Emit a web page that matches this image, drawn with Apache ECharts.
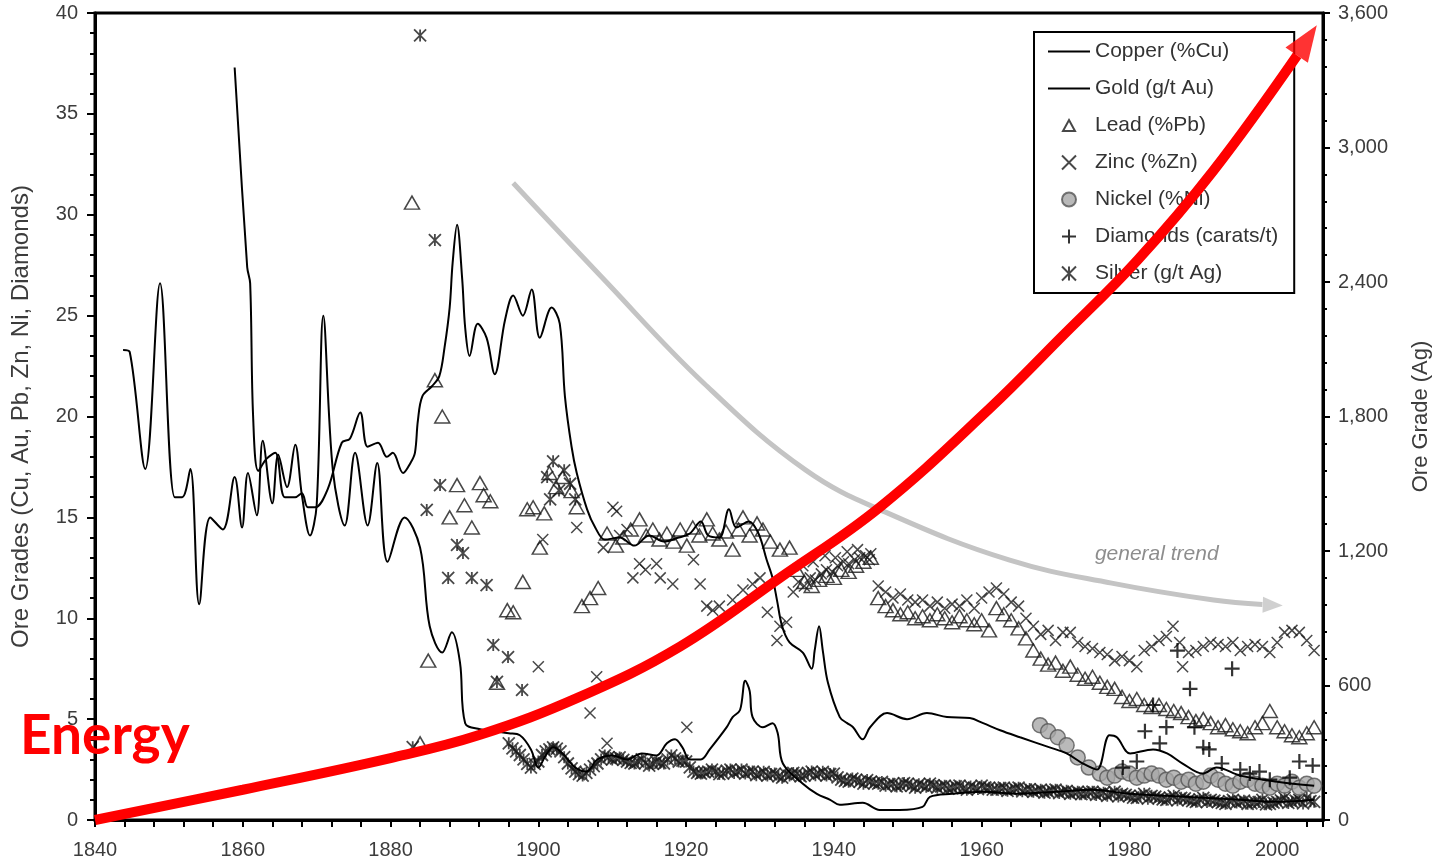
<!DOCTYPE html>
<html><head><meta charset="utf-8">
<script src="https://cdn.jsdelivr.net/npm/echarts@6/dist/echarts.min.js"></script>
<style>html,body{margin:0;padding:0;background:#fff}#c{width:1439px;height:862px}</style>
</head><body><div id="c"></div>
<script>
// ---------- data (year, value) ----------
const copper = [[1843.8,23.3],[1844.7,23.2],[1846.8,17.4],[1848.8,26.6],[1850.8,16.0],[1851.8,16.0],[1852.9,17.4],[1854.1,10.7],[1855.6,15.0],[1857.3,14.4],[1858.9,17.0],[1859.9,14.5],[1860.7,17.2],[1861.9,15.1],[1862.7,18.8],[1864.0,15.7],[1864.8,18.1],[1866.0,16.5],[1867.1,18.6],[1868.0,16.1],[1869.1,14.1],[1870.0,15.6],[1870.9,25.0],[1872.2,17.3],[1873.8,14.6],[1875.2,18.2],[1876.9,14.6],[1878.2,17.7],[1879.6,12.8],[1881.9,15.0],[1884.0,13.5],[1885.3,9.6],[1887.0,8.3],[1888.3,9.3],[1889.4,7.8],[1890.1,4.8],[1892.1,4.5],[1894,4.4],[1896,4.3],[1897.5,4.2],[1899,3.5],[1900,2.6],[1901,3.2],[1902,3.6],[1903,3.4],[1904,3.0],[1905,2.6],[1906.5,2.4],[1908,3.0],[1910,3.2],[1912,3.0],[1914,3.3],[1916,3.2],[1917.4,3.8],[1918.5,4.0],[1919.5,3.6],[1920.5,3.0],[1922,3.0],[1923.2,3.5],[1925.5,4.6],[1926.3,5.1],[1927.3,5.45],[1928.0,6.9],[1928.6,6.4],[1929.0,5.1],[1930.4,4.6],[1931.7,4.8],[1932.4,4.3],[1933.1,2.8],[1935.8,1.8],[1937.7,1.3],[1939.5,1.0],[1940.8,0.75],[1943.9,0.85],[1946.2,0.5],[1948.9,0.5],[1952,0.65],[1953,1.15],[1956,1.3],[1960,1.4],[1965,1.3],[1970,1.4],[1975,1.5],[1980,1.3],[1985,1.2],[1990,1.1],[1995,1.0],[2000,0.9],[2005,1.0]];

const gold = [[1858.9,37.3],[1860.6,27.4],[1861.0,26.6],[1861.4,20.0],[1862.1,17.3],[1863.2,17.9],[1864.4,18.2],[1865.7,16.0],[1867.1,16.0],[1868.0,16.2],[1868.8,15.5],[1869.8,15.5],[1871.5,16.4],[1873.4,18.7],[1874.5,18.9],[1875.9,20.2],[1876.9,18.5],[1878.3,18.7],[1879.5,18.0],[1880.3,18.2],[1881.7,17.2],[1882.7,17.7],[1883.3,18.2],[1883.7,19.8],[1884.3,21.0],[1885.6,21.5],[1886.6,22.0],[1887.3,23.4],[1888.0,25.4],[1888.4,27.6],[1889.0,29.5],[1889.7,26.8],[1890.1,24.4],[1890.7,23.0],[1891.8,24.6],[1893.0,23.9],[1894.1,22.1],[1895.5,24.8],[1896.6,26.0],[1897.9,25.0],[1899.1,26.3],[1900.2,23.9],[1901.8,25.4],[1902.9,24.6],[1903.6,21.0],[1904.5,18.5],[1905.2,17.2],[1906.6,15.4],[1907.7,14.5],[1909,13.9],[1911,14.0],[1913,13.6],[1915,14.1],[1917,13.8],[1919,14.0],[1920.5,14.2],[1922,14.8],[1923,14.1],[1924.5,14.0],[1925.8,15.4],[1926.8,14.5],[1928.5,14.8],[1929.8,14.2],[1930.9,12.9],[1931.7,12.0],[1932.3,10.9],[1933.0,9.6],[1934.0,8.8],[1935.8,8.3],[1937.0,7.5],[1937.4,8.4],[1938.0,9.6],[1938.5,8.4],[1939.2,6.8],[1940.8,5.1],[1941.8,4.8],[1942.6,4.6],[1943.9,4.0],[1944.9,4.6],[1947.2,5.3],[1949.9,5.0],[1952.6,5.3],[1955.3,5.1],[1958.4,5.05],[1960.2,4.8],[1962.5,4.45],[1965.2,4.1],[1969.2,3.6],[1971.5,3.3],[1973.7,2.8],[1975.6,2.5],[1977.3,4.2],[1978.3,4.1],[1980.1,3.3],[1983.2,3.5],[1985.1,3.3],[1987.2,2.8],[1989.9,2.3],[1991.8,2.6],[1995,2.2],[2000,1.9],[2005,1.7]];

const lead = [[1882.9,30.6],[1884.0,3.8],[1885.1,7.9],[1886.0,21.8],[1887.0,20.0],[1888.0,15.0],[1889.0,16.6],[1890.0,15.6],[1891.0,14.5],[1892.1,16.7],[1892.6,16.1],[1893.5,15.8],[1894.4,6.8],[1895.8,10.4],[1896.6,10.3],[1897.9,11.8],[1898.5,15.4],[1899.3,15.5],[1900.2,13.5],[1900.8,15.2],[1901.5,17.2],[1902.4,16.5],[1903.3,17.0],[1904.5,16.3],[1905.2,15.5],[1905.9,10.6],[1907.0,11.0],[1908.1,11.5],[1909.3,14.2],[1910.5,13.6],[1911.5,14.0],[1912.5,14.4],[1913.7,14.9],[1914.6,14.1],[1915.5,14.4],[1916.4,13.9],[1917.4,14.2],[1918.3,13.8],[1919.2,14.4],[1920.1,13.6],[1920.9,14.5],[1921.8,14.1],[1922.8,14.9],[1923.6,14.2],[1924.5,13.9],[1925.4,14.3],[1926.3,13.4],[1927.1,14.4],[1927.7,15.0],[1928.6,14.1],[1929.6,14.7],[1930.4,14.4],[1931.4,13.8],[1932.7,13.4],[1934.0,13.5],[1935.0,12.4],[1936,11.8],[1937,11.6],[1938,11.9],[1939,12.1],[1940,12.0],[1941,12.4],[1942,12.3],[1943,12.6],[1944,12.8],[1945,13.0],[1946,11.0],[1947,10.6],[1948,10.4],[1949,10.2],[1950,10.3],[1951,10.0],[1952,10.1],[1953,9.9],[1954,10.2],[1955,10.0],[1956,9.8],[1957,10.1],[1958,9.9],[1959,9.7],[1960,9.9],[1961,9.4],[1962,10.5],[1963,10.2],[1964,9.9],[1965,9.5],[1966,9.0],[1967,8.4],[1968,8.0],[1969,7.7],[1970,7.8],[1971,7.4],[1972,7.6],[1973,7.2],[1974,7.0],[1975,7.1],[1976,6.8],[1977,6.6],[1978,6.5],[1979,6.1],[1980,5.9],[1981,6.0],[1982,5.7],[1983,5.6],[1984,5.7],[1985,5.5],[1986,5.4],[1987,5.3],[1988,5.1],[1989,4.9],[1990,5.0],[1991,4.8],[1992,4.6],[1993,4.7],[1994,4.5],[1995,4.4],[1996,4.3],[1997,4.6],[1998,4.8],[1999,5.4],[2000,4.6],[2001,4.4],[2002,4.2],[2003,4.1],[2004,4.3],[2005,4.6]];

const zinc = [[1900.0,7.6],[1900.6,13.9],[1905.2,14.5],[1907.0,5.3],[1907.9,7.1],[1908.8,13.5],[1909.3,3.8],[1910.1,15.5],[1910.6,15.3],[1911.0,14.1],[1912.0,14.4],[1912.8,12.0],[1913.7,12.7],[1914.5,12.4],[1916.0,12.7],[1916.5,12.0],[1918.2,11.7],[1920.1,4.6],[1921.0,12.9],[1921.9,11.7],[1922.8,10.6],[1923.6,10.4],[1924.5,10.6],[1926.3,10.9],[1927.7,11.4],[1929.0,11.7],[1930.0,12.0],[1931.0,10.3],[1932.3,8.9],[1932.7,9.6],[1933.6,9.8],[1934.5,11.3],[1935.2,11.8],[1935.8,12.6],[1936,11.6],[1936.8,12.0],[1937.2,12.8],[1937.5,11.9],[1938.3,12.2],[1938.8,13.1],[1939,12.4],[1939.8,12.3],[1940.2,13.0],[1940.5,12.6],[1941.3,12.8],[1941.8,13.3],[1942,12.7],[1942.8,12.9],[1943.2,13.4],[1943.5,13.0],[1944.3,13.1],[1944.8,12.9],[1945,13.2],[1946,11.6],[1947,11.3],[1948,11.0],[1949,11.2],[1950,10.9],[1951,10.8],[1952,10.9],[1953,10.6],[1954,10.8],[1955,10.5],[1956,10.7],[1957,10.6],[1958,10.9],[1959,10.5],[1960,11.0],[1961,11.3],[1962,11.5],[1963,11.2],[1964,10.8],[1965,10.6],[1966,10.0],[1967,9.6],[1968,9.2],[1969,9.4],[1970,8.9],[1971,9.3],[1972,9.3],[1973,8.8],[1974,8.6],[1975,8.5],[1976,8.3],[1977,8.2],[1978,7.9],[1979,8.1],[1980,7.9],[1981,7.6],[1982,8.4],[1983,8.6],[1984,8.9],[1985,9.1],[1985.9,9.6],[1986.8,8.8],[1987.2,7.6],[1988,8.3],[1989,8.4],[1990,8.6],[1991,8.8],[1992,8.7],[1993,8.6],[1994,8.8],[1995,8.4],[1996,8.6],[1997,8.7],[1998,8.6],[1999,8.3],[2000,8.8],[2001,9.3],[2002,9.4],[2003,9.3],[2004,8.9],[2005,8.4]];

const nickel = [[1967.9,4.7],[1969,4.4],[1970.3,4.1],[1971.5,3.7],[1973,3.1],[1974.5,2.6],[1976,2.3],[1977,2.1],[1978,2.2],[1979,2.4],[1980,2.3],[1981,2.1],[1982,2.2],[1983,2.3],[1984,2.2],[1985,2.0],[1986,2.1],[1987,1.9],[1988,2.0],[1989,1.8],[1990,1.9],[1991,2.2],[1992,2.0],[1993,1.8],[1994,1.7],[1995,1.9],[1996,2.0],[1997,1.8],[1998,1.7],[1999,1.6],[2000,1.8],[2001,1.7],[2002,1.9],[2003,1.6],[2004,1.8],[2005,1.7]];

const diamonds = [[1979.1,2.6],[1981,2.9],[1982.1,4.4],[1983.2,5.7],[1984.1,3.8],[1985,4.6],[1986.5,8.4],[1988.2,6.5],[1988.8,4.6],[1990,3.6],[1990.8,3.5],[1992.5,2.8],[1993.9,7.5],[1995,2.5],[1996.3,2.3],[1997.6,2.4],[1999,2.0],[2001.7,2.1],[2003,2.9],[2004.8,2.7]];

// silver, g/t (right axis)
const silver = [[1883.0,325],[1884.0,3500],[1884.9,1383],[1886.0,2587],[1886.7,1494],[1887.8,1080],[1889.0,1227],[1889.8,1191],[1891.0,1080],[1893.0,1048],[1893.9,781],[1894.4,616],[1895.9,727],[1897.8,580],[1901.2,1530],[1901.6,1430],[1902.0,1600],[1902.8,1470],[1903.5,1560],[1904.3,1500],[1905.0,1430],
[1896,342],[1896.5,320],[1897,306],[1897.5,290],[1898,270],[1898.5,250],[1899,234],[1899.5,250],[1900,261],[1900.5,290],[1901,306],[1901.5,315],[1902,324],[1902.5,318],[1903,306],[1903.5,280],[1904,252],[1904.5,230],[1905,216],[1905.5,205],[1906,198],[1906.5,210],[1907,225],[1907.5,240],[1908,252],[1908.5,270],[1909,288],[1909.5,280],[1910,270],[1910.5,275],[1911,279],[1911.5,268],[1912,261],[1912.5,255],[1913,252],[1913.5,262],[1914,270],[1914.5,255],[1915,243],[1915.5,250],[1916,261],[1916.5,255],[1917,252],[1917.5,270],[1918,288],[1918.5,275],[1919,261],[1919.5,265],[1920,261],[1920.5,235],[1921,216],[1921.5,210],[1922,207],[1922.5,212],[1923,216],[1924,216],[1925,207],[1926,225],[1927,216],[1928,207],[1929,216],[1930,207],[1931,198],[1932,207],[1933,189],[1934,198],[1935,207],[1936,198],[1937,216],[1938,207],[1939,198],[1940,207],[1941,180],[1942,171],[1943,180],[1944,162],[1945,171],[1946,162],[1947,153],[1948,162],[1949,153],[1950,162],[1951,144],[1952,153],[1953,162],[1954,144],[1955,153],[1956,144],[1957,153],[1958,135],[1959,144],[1960,153],[1961,144],[1962,135],[1963,144],[1964,135],[1965,144],[1966,135],[1967,126],[1968,135],[1969,126],[1970,135],[1971,126],[1972,117],[1973,126],[1974,117],[1975,126],[1976,117],[1977,108],[1978,126],[1979,117],[1980,108],[1981,99],[1982,117],[1983,108],[1984,99],[1985,90],[1986,108],[1987,99],[1988,90],[1989,81],[1990,99],[1991,90],[1992,81],[1993,72],[1994,90],[1995,81],[1996,72],[1997,81],[1998,90],[1999,72],[2000,81],[2001,99],[2002,81],[2003,90],[2004,99],[2005,81],
[1923.5,225],[1924.5,205],[1925.5,220],[1926.5,210],[1927.5,225],[1928.5,215],[1929.5,200],[1930.5,215],[1931.5,205],[1932.5,195],[1933.5,205],[1934.5,210],[1935.5,195],[1936.5,210],[1937.5,200],[1938.5,215],[1939.5,205],[1940.5,190],[1941.5,175],[1942.5,185],[1943.5,170],[1944.5,178],[1945.5,165],[1946.5,170],[1947.5,160],[1948.5,150],[1949.5,165],[1950.5,152],[1951.5,160],[1952.5,148],[1953.5,155],[1954.5,150],[1955.5,140],[1956.5,150],[1957.5,142],[1958.5,150],[1959.5,138],[1960.5,145],[1961.5,135],[1962.5,142],[1963.5,130],[1964.5,140],[1965.5,128],[1966.5,138],[1967.5,130],[1968.5,122],[1969.5,132],[1970.5,120],[1971.5,130],[1972.5,122],[1973.5,115],[1974.5,124],[1975.5,112],[1976.5,122],[1977.5,115],[1978.5,105],[1979.5,112],[1980.5,100],[1981.5,108],[1982.5,95],[1983.5,104],[1984.5,92],[1985.5,100],[1986.5,88],[1987.5,96],[1988.5,84],[1989.5,92],[1990.5,80],[1991.5,86],[1992.5,76],[1993.5,84],[1994.5,78],[1995.5,86],[1996.5,74],[1997.5,80],[1998.5,70],[1999.5,78],[2000.5,88],[2001.5,76],[2002.5,86],[2003.5,74],[2004.5,84]];

// annotation curves (left-axis units)
const energyCurve = [[1840,0],[1860,1.5],[1880,3.07],[1892,4.21],[1905.6,6.1],[1919.2,8.6],[1932.7,12.0],[1946.2,15.5],[1961.1,20.4],[1970.7,23.9],[1981.1,27.75],[1991.4,32.2],[2002.7,37.9]];
const energyHead = [[2004.0,38.65]];
const trendCurve = [[1896.6,31.57],[1908.6,26.9],[1922.4,21.65],[1936.2,17.34],[1947.3,15.21],[1963.8,12.88],[1977.6,11.74],[1991.4,10.9],[1998.0,10.68]];
const trendHead = [[1999.4,10.65]];
const trendLabel = [[1983.7,13.2]];

const FONT = 'Liberation Sans, Arial, sans-serif';
const TXT = '#3c3c3c';
const chart = echarts.init(document.getElementById('c'));
const symX = 'path://M0,0L10,10M10,0L0,10';
const symPlus = 'path://M5,0L5,10M0,5L10,5';
const symStar = 'path://M0,0L10,10M10,0L0,10M5,0L5,10';
const iconLine = 'path://M0,0L42,0L42,2L0,2Z';
const iconTri = 'path://M0,0M7,1.5L13,12.5L1,12.5ZM14,14';

const legendItems = [
  { name: 'Copper (%Cu)', icon: iconLine },
  { name: 'Gold (g/t Au)', icon: iconLine },
  { name: 'Lead (%Pb)', icon: iconTri },
  { name: 'Zinc (%Zn)' },
  { name: 'Nickel (%Ni)' },
  { name: 'Diamonds (carats/t)' },
  { name: 'Silver (g/t Ag)' }
];

chart.setOption({
  animation: false,
  backgroundColor: '#fff',
  title: { text: 'Energy', left: 15, top: 704, padding: 5,
    textStyle: { color: '#ff0000', fontSize: 55, fontWeight: 'bold', fontFamily: 'Lato, sans-serif' } },
  grid: { left: 95, right: 116, top: 13, bottom: 42, show: true, borderColor: '#000', borderWidth: 3,
    backgroundColor: 'transparent', outerBoundsMode: 'none' },
  legend: {
    data: legendItems, orient: 'vertical', left: 1034, top: 32, itemWidth: 42, itemHeight: 14, itemGap: 16,
    padding: [9, 16, 9, 14], borderColor: '#000', borderWidth: 2, backgroundColor: '#fff', selectedMode: false,
    textStyle: { fontSize: 21, color: '#333', fontFamily: FONT }
  },
  xAxis: [
    { type: 'value', min: 1840, max: 2006.2, interval: 20, position: 'bottom',
      axisLine: { show: true, lineStyle: { color: '#000', width: 3 } },
      axisTick: { show: false }, splitLine: { show: false },
      axisLabel: { margin: 20, fontSize: 20, color: TXT, fontFamily: FONT, showMaxLabel: false,
        formatter: v => (Math.abs(v % 20) < 1e-6 ? String(v) : '') } },
    { type: 'value', min: 1840, max: 2006.2, interval: 4, position: 'bottom',
      axisLine: { show: false }, axisLabel: { show: false }, splitLine: { show: false },
      axisTick: { show: true, length: 7, lineStyle: { color: '#000', width: 2 } } }
  ],
  yAxis: [
    { type: 'value', min: 0, max: 40, interval: 5, position: 'left',
      axisLine: { show: true, lineStyle: { color: '#000', width: 3 } },
      axisTick: { show: true, length: 8, lineStyle: { color: '#000', width: 2 } },
      minorTick: { show: true, splitNumber: 5, length: 5, lineStyle: { color: '#000', width: 2 } },
      splitLine: { show: false }, minorSplitLine: { show: false },
      axisLabel: { margin: 17, fontSize: 20, color: TXT, fontFamily: FONT },
      name: 'Ore Grades (Cu, Au, Pb, Zn, Ni, Diamonds)', nameLocation: 'middle', nameGap: 62,
      nameTextStyle: { fontSize: 24, color: TXT, fontFamily: FONT } },
    { type: 'value', min: 0, max: 3600, interval: 600, position: 'right',
      axisLine: { show: true, lineStyle: { color: '#000', width: 3 } },
      axisTick: { show: true, length: 7, lineStyle: { color: '#000', width: 2 } },
      minorTick: { show: true, splitNumber: 5, length: 4, lineStyle: { color: '#000', width: 2 } },
      splitLine: { show: false }, minorSplitLine: { show: false },
      axisLabel: { margin: 15, fontSize: 20, color: TXT, fontFamily: FONT,
        formatter: v => v.toLocaleString('en-US') },
      name: 'Ore Grade (Ag)', nameLocation: 'middle', nameGap: 87, nameRotate: 90,
      nameTextStyle: { fontSize: 22, color: TXT, fontFamily: FONT } }
  ],
  series: [
    { name: 'Trend', type: 'line', data: trendCurve, smooth: 0.4, symbol: 'none', z: 1, silent: true,
      lineStyle: { color: '#c4c4c4', width: 5 } },
    { name: 'TrendHead', type: 'scatter', data: trendHead, symbol: 'triangle', symbolSize: [16, 20], symbolRotate: -92,
      z: 1, silent: true, itemStyle: { color: '#c4c4c4' } },
    { name: 'TrendLabel', type: 'scatter', data: trendLabel, symbolSize: 1, silent: true, itemStyle: { color: 'rgba(0,0,0,0)' },
      label: { show: true, position: 'inside', formatter: 'general trend', fontStyle: 'italic', fontSize: 21,
        color: '#707070', fontFamily: FONT } },
    { name: 'Silver (g/t Ag)', type: 'scatter', yAxisIndex: 1, data: silver, symbol: symStar, symbolSize: 12, z: 2,
      itemStyle: { color: 'rgba(0,0,0,0)', borderColor: '#1a1a1a', borderWidth: 1.8 } },
    { name: 'Lead (%Pb)', type: 'scatter', data: lead, symbol: 'triangle', symbolSize: [15, 13], z: 2,
      itemStyle: { color: 'rgba(255,255,255,0)', borderColor: '#1a1a1a', borderWidth: 1.5 } },
    { name: 'Zinc (%Zn)', type: 'scatter', data: zinc, symbol: symX, symbolSize: 11, z: 2,
      itemStyle: { color: 'rgba(0,0,0,0)', borderColor: '#1a1a1a', borderWidth: 1.5 } },
    { name: 'Nickel (%Ni)', type: 'scatter', data: nickel, symbol: 'circle', symbolSize: 15, z: 2,
      itemStyle: { color: '#a8a8a8', borderColor: '#555', borderWidth: 1.5 } },
    { name: 'Diamonds (carats/t)', type: 'scatter', data: diamonds, symbol: symPlus, symbolSize: 15, z: 3,
      itemStyle: { color: 'rgba(0,0,0,0)', borderColor: '#000', borderWidth: 2.2 } },
    { name: 'Copper (%Cu)', type: 'line', data: copper, smooth: 0.35, symbol: 'none', z: 3,
      lineStyle: { color: '#000', width: 2 }, itemStyle: { color: '#000' } },
    { name: 'Gold (g/t Au)', type: 'line', data: gold, smooth: 0.35, symbol: 'none', z: 3,
      lineStyle: { color: '#000', width: 2 }, itemStyle: { color: '#000' } },
    { name: 'Energy', type: 'line', data: energyCurve, smooth: 0.4, symbol: 'none', z: 10, clip: false, silent: true,
      lineStyle: { color: '#ff0000', width: 10 } },
    { name: 'EnergyHead', type: 'scatter', data: energyHead, symbol: 'triangle', symbolSize: [27, 36], symbolRotate: -34,
      z: 11, clip: false, silent: true, itemStyle: { color: '#ff0000' } }
  ]
});
</script></body></html>
